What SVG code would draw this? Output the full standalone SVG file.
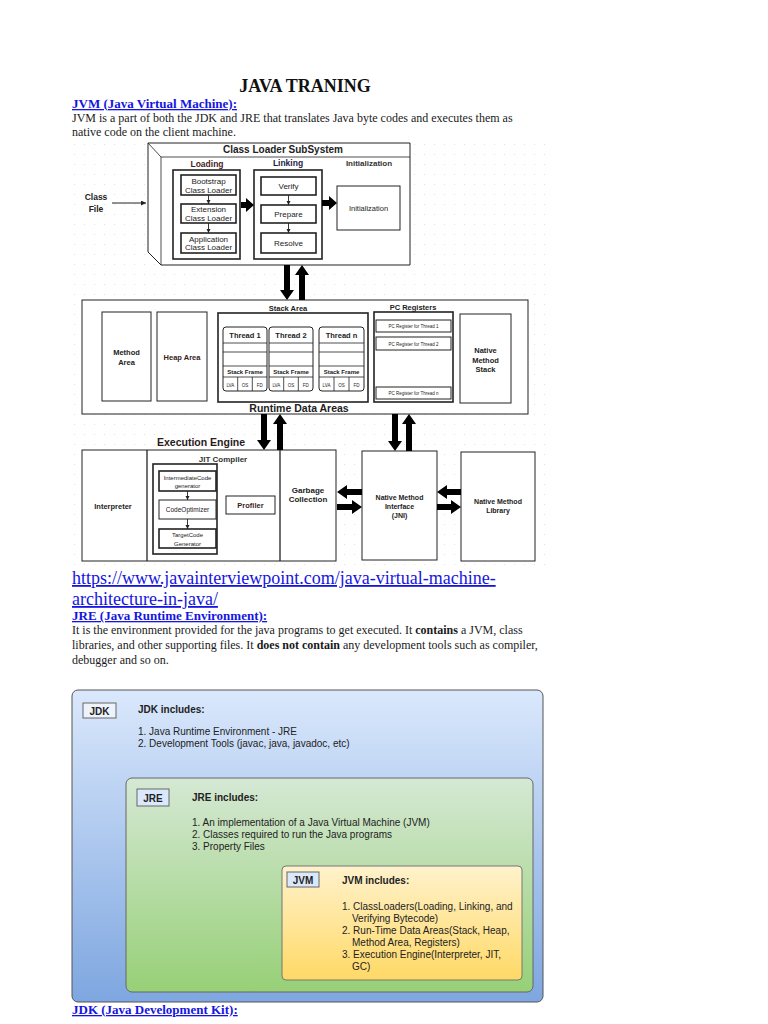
<svg xmlns="http://www.w3.org/2000/svg" width="768" height="1024" viewBox="0 0 768 1024">
<defs>
<style>
.doc{font-family:"Liberation Serif","Times New Roman",serif;fill:#1a1a1a;font-size:12px}
.link{font-family:"Liberation Serif","Times New Roman",serif;fill:#1515e0;text-decoration:underline}
.h{font-weight:bold;font-size:13px}
.d{font-family:"Liberation Sans",Arial,sans-serif;fill:#222}
.b{font-weight:bold}
.box{fill:#fff;stroke:#222;stroke-width:1}
.box2{fill:#fff;stroke:#222;stroke-width:1.6}
.thin{fill:none;stroke:#222;stroke-width:0.8}
.arr{fill:#000}
.c{text-anchor:middle}
.s{font-family:"Liberation Sans",Arial,sans-serif;fill:#222;font-size:10px}
</style>
<pattern id="grid" width="10" height="10" patternUnits="userSpaceOnUse">
<rect x="4" y="4" width="1" height="1" fill="#e2e2e2"/>
</pattern>
<linearGradient id="gBlue" x1="0" y1="0" x2="0" y2="1"><stop offset="0" stop-color="#dae8fc"/><stop offset="1" stop-color="#7ea6e0"/></linearGradient>
<linearGradient id="gGreen" x1="0" y1="0" x2="0" y2="1"><stop offset="0" stop-color="#d5e8d4"/><stop offset="1" stop-color="#97d077"/></linearGradient>
<linearGradient id="gYellow" x1="0" y1="0" x2="0" y2="1"><stop offset="0" stop-color="#fff2cc"/><stop offset="1" stop-color="#ffd966"/></linearGradient>
<marker id="ah" viewBox="0 0 6 6" refX="6" refY="3" markerWidth="5" markerHeight="5" orient="auto"><path d="M0,0 L6,3 L0,6 Z" fill="#222"/></marker>
</defs>
<rect width="768" height="1024" fill="#fff"/>

<!-- Document text -->
<text class="doc b" x="305" y="92" text-anchor="middle" style="font-size:18px;fill:#111">JAVA TRANING</text>
<text class="link h" x="72" y="108">JVM (Java Virtual Machine):</text>
<text class="doc" x="72" y="122">JVM is a part of both the JDK and JRE that translates Java byte codes and executes them as</text>
<text class="doc" x="72" y="136">native code on the client machine.</text>

<!-- grid background -->
<rect x="70" y="140" width="476" height="425" fill="url(#grid)"/>

<!-- Class Loader SubSystem -->
<g id="class-loader-subsystem">
<path d="M148,143 H410 V265 H161 L148,252 Z" fill="#fff" stroke="#222" stroke-width="1"/>
<path d="M148,143 L161,157 H410 M161,157 V265" class="thin"/>
<text class="d b c" x="283" y="153" font-size="10">Class Loader SubSystem</text>
</g>
<g id="class-file">
<text class="d b c" x="96" y="200" font-size="8.5" fill="#3a2020">Class</text>
<text class="d b c" x="96" y="212" font-size="8.5" fill="#3a2020">File</text>
</g>
<g id="loading">
<rect class="box2" x="173" y="170" width="67" height="89"/>
<text class="d b c" x="207" y="167" font-size="8.5" style="fill:#4a1c1c">Loading</text>
</g>
<g id="bootstrap-class-loader">
<rect class="box2" x="181" y="175" width="55" height="20"/>
<text class="d c" x="208.5" y="184" font-size="8">Bootstrap</text>
<text class="d c" x="208.5" y="192.5" font-size="8">Class Loader</text>
</g>
<g id="extension-class-loader">
<rect class="box2" x="181" y="204" width="55" height="19"/>
<text class="d c" x="208.5" y="212" font-size="8">Extension</text>
<text class="d c" x="208.5" y="220.5" font-size="8">Class Loader</text>
</g>
<g id="application-class-loader">
<rect class="box2" x="181" y="233" width="55" height="20"/>
<text class="d c" x="208.5" y="241.5" font-size="8">Application</text>
<text class="d c" x="208.5" y="250" font-size="8">Class Loader</text>
</g>
<g id="linking">
<rect class="box2" x="254" y="170" width="68" height="89"/>
<text class="d b c" x="288" y="166" font-size="8.5" style="fill:#1c1c4a">Linking</text>
</g>
<g id="verify">
<rect class="box2" x="261" y="177" width="55" height="18"/>
<text class="d c" x="288.5" y="189" font-size="8">Verify</text>
</g>
<g id="prepare">
<rect class="box2" x="261" y="205" width="55" height="18"/>
<text class="d c" x="288.5" y="217" font-size="8">Prepare</text>
</g>
<g id="resolve">
<rect class="box2" x="261" y="233" width="55" height="20"/>
<text class="d c" x="288.5" y="246" font-size="8">Resolve</text>
</g>
<g id="initialization">
<text class="d b c" x="369" y="166" font-size="8" style="fill:#333">Initialization</text>
<rect class="box" x="337" y="186" width="63" height="44"/>
<text class="d c" x="368.5" y="211" font-size="7.5">Initialization</text>
</g>

<!-- Runtime Data Areas -->
<g id="runtime-data-areas">
<rect class="box" x="82" y="300" width="446" height="114"/>
<text class="d b c" x="299" y="412" font-size="10.5">Runtime Data Areas</text>
</g>
<g id="method-area">
<rect class="box" x="102" y="312" width="49" height="89"/>
<text class="d b c" x="126.5" y="355" font-size="7.5">Method</text>
<text class="d b c" x="126.5" y="365" font-size="7.5">Area</text>
</g>
<g id="heap-area">
<rect class="box" x="157" y="312" width="50" height="89"/>
<text class="d b c" x="182" y="360" font-size="7.5" style="fill:#3a1c1c">Heap Area</text>
</g>
<g id="stack-area">
<rect class="box2" x="218" y="313" width="150" height="89"/>
<text class="d b c" x="288" y="311" font-size="7.5">Stack Area</text>
</g>
<g id="thread-1">
<rect x="223" y="327" width="44" height="64" rx="3" fill="#fff" stroke="#222"/>
<path class="thin" d="M223,343 H267 M223,352 H267 M223,366 H267 M223,377 H267 M237.7,377 V391 M252.3,377 V391"/>
<text class="d b c" x="245" y="338" font-size="7.5">Thread 1</text>
<text class="d b c" x="245" y="374" font-size="6">Stack Frame</text>
<text class="d c" x="230.3" y="387" font-size="4.5">LVA</text>
<text class="d c" x="245" y="387" font-size="4.5">OS</text>
<text class="d c" x="259.7" y="387" font-size="4.5">FD</text>
</g>
<g id="thread-2">
<rect x="269" y="327" width="44" height="64" rx="3" fill="#fff" stroke="#222"/>
<path class="thin" d="M269,343 H313 M269,352 H313 M269,366 H313 M269,377 H313 M283.7,377 V391 M298.3,377 V391"/>
<text class="d b c" x="291" y="338" font-size="7.5">Thread 2</text>
<text class="d b c" x="291" y="374" font-size="6">Stack Frame</text>
<text class="d c" x="276.3" y="387" font-size="4.5">LVA</text>
<text class="d c" x="291" y="387" font-size="4.5">OS</text>
<text class="d c" x="305.7" y="387" font-size="4.5">FD</text>
</g>
<g id="thread-n">
<rect x="319" y="327" width="45" height="64" rx="3" fill="#fff" stroke="#222"/>
<path class="thin" d="M319,343 H364 M319,352 H364 M319,366 H364 M319,377 H364 M334,377 V391 M349,377 V391"/>
<text class="d b c" x="341.5" y="338" font-size="7.5">Thread n</text>
<text class="d b c" x="341.5" y="374" font-size="6">Stack Frame</text>
<text class="d c" x="326.5" y="387" font-size="4.5">LVA</text>
<text class="d c" x="341.5" y="387" font-size="4.5">OS</text>
<text class="d c" x="356.5" y="387" font-size="4.5">FD</text>
</g>
<g id="pc-registers">
<rect class="box2" x="374" y="312" width="79" height="90"/>
<text class="d b c" x="413" y="310" font-size="7.5">PC Registers</text>
<rect class="box" x="376" y="320" width="75" height="12"/>
<text class="d c" x="413.5" y="328" font-size="4.5">PC Register for Thread 1</text>
<rect class="box" x="376" y="337" width="75" height="13"/>
<text class="d c" x="413.5" y="345.5" font-size="4.5">PC Register for Thread 2</text>
<rect class="box" x="376" y="387" width="75" height="12"/>
<text class="d c" x="413.5" y="395" font-size="4.5">PC Register for Thread n</text>
</g>
<g id="native-method-stack">
<rect class="box" x="460" y="314" width="51" height="89"/>
<text class="d b c" x="485.5" y="353" font-size="7.5">Native</text>
<text class="d b c" x="485.5" y="362.5" font-size="7.5">Method</text>
<text class="d b c" x="485.5" y="372" font-size="7.5">Stack</text>
</g>

<!-- Execution Engine -->
<g id="execution-engine">
<text class="d b" x="157" y="446" font-size="10.5" style="fill:#2a1a1a">Execution Engine</text>
<rect class="box" x="82" y="450" width="254" height="111"/>
</g>
<g id="interpreter">
<line x1="147" y1="450" x2="147" y2="561" stroke="#222" stroke-width="1.3"/>
<text class="d b c" x="113" y="509" font-size="7.5">Interpreter</text>
</g>
<g id="jit-compiler">
<text class="d b c" x="223" y="462" font-size="8" style="fill:#333">JIT Compiler</text>
<rect class="box2" x="153" y="464" width="64" height="90"/>
</g>
<g id="intermediate-code-generator">
<rect class="box2" x="159" y="471" width="57" height="20"/>
<text class="d c" x="187.5" y="479.5" font-size="6">IntermediateCode</text>
<text class="d c" x="187.5" y="488" font-size="6">generator</text>
</g>
<g id="code-optimizer">
<rect class="box" x="159" y="500" width="57" height="19"/>
<text class="d c" x="187.5" y="512" font-size="6.5">CodeOptimizer</text>
</g>
<g id="target-code-generator">
<rect class="box2" x="159" y="529" width="57" height="19"/>
<text class="d c" x="187.5" y="537" font-size="6">TargetCode</text>
<text class="d c" x="187.5" y="545.5" font-size="6">Generator</text>
</g>
<g id="profiler">
<rect class="box" x="226" y="496" width="49" height="18"/>
<text class="d b c" x="250.5" y="508" font-size="7.5" style="fill:#3a1c1c">Profiler</text>
</g>
<g id="garbage-collection">
<line x1="280" y1="450" x2="280" y2="561" stroke="#222" stroke-width="1.3"/>
<text class="d b c" x="308" y="493" font-size="8">Garbage</text>
<text class="d b c" x="308" y="502" font-size="8">Collection</text>
</g>
<g id="native-method-interface">
<rect class="box" x="362" y="451" width="75" height="109"/>
<text class="d b c" x="399.5" y="500" font-size="7">Native Method</text>
<text class="d b c" x="399.5" y="509" font-size="7">Interface</text>
<text class="d b c" x="399.5" y="518" font-size="7">(JNI)</text>
</g>
<g id="native-method-library">
<rect class="box" x="461" y="452" width="74" height="109"/>
<text class="d b c" x="498" y="504" font-size="7">Native Method</text>
<text class="d b c" x="498" y="513" font-size="7">Library</text>
</g>

<!-- Connectors -->
<g id="connectors">
<line x1="112" y1="203" x2="146" y2="203" stroke="#222" stroke-width="1" marker-end="url(#ah)"/>
<line x1="208.5" y1="195" x2="208.5" y2="204" stroke="#222" stroke-width="0.9" marker-end="url(#ah)"/>
<line x1="208.5" y1="223" x2="208.5" y2="233" stroke="#222" stroke-width="0.9" marker-end="url(#ah)"/>
<line x1="288.5" y1="195" x2="288.5" y2="205" stroke="#222" stroke-width="0.9" marker-end="url(#ah)"/>
<line x1="288.5" y1="223" x2="288.5" y2="233" stroke="#222" stroke-width="0.9" marker-end="url(#ah)"/>
<line x1="187.5" y1="491" x2="187.5" y2="500" stroke="#222" stroke-width="0.9" marker-end="url(#ah)"/>
<line x1="187.5" y1="519" x2="187.5" y2="529" stroke="#222" stroke-width="0.9" marker-end="url(#ah)"/>
<path class="arr" d="M241,202 H246 V198 L254,205 L246,212 V208 H241 Z"/>
<path class="arr" d="M322,200 H329 V196 L337,203 L329,210 V206 H322 Z"/>
<path class="arr" d="M284,265 H290 V290 H294 L287,300 L280,290 H284 Z"/>
<path class="arr" d="M299,300 H305 V275 H309 L302,265 L295,275 H299 Z"/>
<path class="arr" d="M261,414 H267 V440 H271 L264,450 L257,440 H261 Z"/>
<path class="arr" d="M277,450 H283 V424 H287 L280,414 L273,424 H277 Z"/>
<path class="arr" d="M392,414 H398 V441 H402 L395,451 L388,441 H392 Z"/>
<path class="arr" d="M406,451 H412 V424 H416 L409,414 L402,424 H406 Z"/>
<path class="arr" d="M362,489 H347 V485 L337,492 L347,499 V495 H362 Z"/>
<path class="arr" d="M337,504 H352 V500 L362,507 L352,514 V510 H337 Z"/>
<path class="arr" d="M461,489 H447 V485 L437,492 L447,499 V495 H461 Z"/>
<path class="arr" d="M437,504 H451 V500 L461,507 L451,514 V510 H437 Z"/>
</g>

<!-- Document text 2 -->
<text class="link" x="72" y="584" font-size="18">https://www.javainterviewpoint.com/java-virtual-machine-</text>
<text class="link" x="72" y="605" font-size="18">architecture-in-java/</text>
<text class="link h" x="72" y="620">JRE (Java Runtime Environment):</text>
<text class="doc" x="72" y="634">It is the environment provided for the java programs to get executed. It <tspan font-weight="bold">contains</tspan> a JVM, class</text>
<text class="doc" x="72" y="649">libraries, and other supporting files. It <tspan font-weight="bold">does not contain</tspan> any development tools such as compiler,</text>
<text class="doc" x="72" y="664">debugger and so on.</text>

<!-- JDK / JRE / JVM -->
<g id="jdk">
<rect x="72" y="690" width="471" height="312" rx="6" fill="url(#gBlue)" stroke="#555" stroke-width="1"/>
<rect x="83" y="703" width="33" height="15" fill="#eef3fb" stroke="#666"/>
<text class="s b c" x="99.5" y="714.5" font-size="10.5">JDK</text>
<text class="s b" x="138" y="713" font-size="10.5">JDK includes:</text>
<text class="s" x="138" y="735">1. Java Runtime Environment - JRE</text>
<text class="s" x="138" y="747">2. Development Tools (javac, java, javadoc, etc)</text>
</g>
<g id="jre">
<rect x="126" y="778" width="407" height="214" rx="6" fill="url(#gGreen)" stroke="#666" stroke-width="1"/>
<rect x="137" y="789" width="32" height="17" fill="#dae8fc" stroke="#666"/>
<text class="s b c" x="153" y="801.5" font-size="10.5">JRE</text>
<text class="s b" x="192" y="801" font-size="10.5">JRE includes:</text>
<text class="s" x="192" y="826">1. An implementation of a Java Virtual Machine (JVM)</text>
<text class="s" x="192" y="838">2. Classes required to run the Java programs</text>
<text class="s" x="192" y="850">3. Property Files</text>
</g>
<g id="jvm">
<rect x="282" y="866" width="240" height="114" rx="4" fill="url(#gYellow)" stroke="#777" stroke-width="1"/>
<rect x="287" y="872" width="32" height="15" fill="#dae8fc" stroke="#666"/>
<text class="s b c" x="303" y="883.5" font-size="10.5">JVM</text>
<text class="s b" x="342" y="884" font-size="10.5">JVM includes:</text>
<text class="s" x="342" y="910">1. ClassLoaders(Loading, Linking, and</text>
<text class="s" x="352" y="922">Verifying Bytecode)</text>
<text class="s" x="342" y="934">2. Run-Time Data Areas(Stack, Heap,</text>
<text class="s" x="352" y="946">Method Area, Registers)</text>
<text class="s" x="342" y="958">3. Execution Engine(Interpreter, JIT,</text>
<text class="s" x="352" y="970">GC)</text>
</g>
<text class="link h" x="72" y="1014">JDK (Java Development Kit):</text>
</svg>
